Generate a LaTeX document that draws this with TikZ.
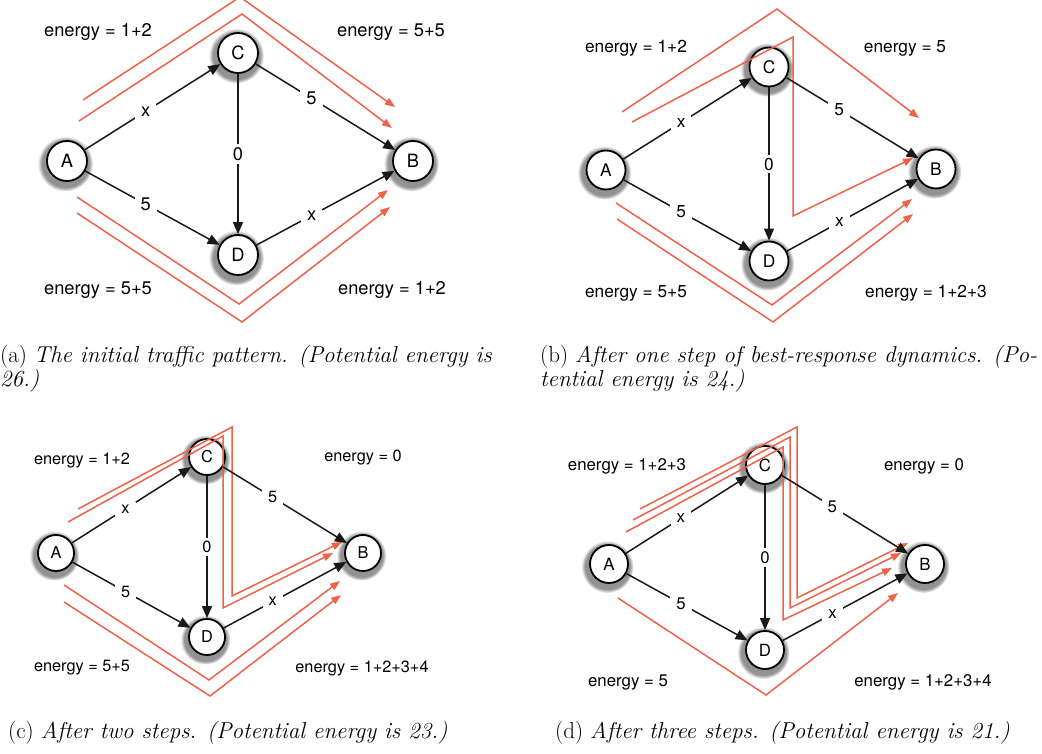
\documentclass[tikz,border=0pt]{standalone}
\usepackage{fontspec}
\newfontfamily\hv{TeX Gyre Heros}
\usetikzlibrary{arrows.meta,shadows}
\definecolor{flow}{RGB}{238,98,74}
\definecolor{edgec}{RGB}{25,25,25}
\tikzset{
  vert/.style={circle,draw=black,line width=1.8pt,fill=white,minimum size=#1,inner sep=0pt,
    circular drop shadow={shadow xshift=-1.2pt,shadow yshift=-2pt,shadow scale=1.38,opacity=0.85}},
  link/.style={draw=edgec,line width=1.5pt,-{Triangle[length=12pt,width=10pt]}},
  elab/.style={fill=white,inner xsep=6pt,inner ysep=3pt},
  route/.style={draw=flow,line width=1.5pt,-{Triangle[length=10pt,width=7.5pt]}},
  captext/.style={anchor=west,inner sep=0pt,font=\fontsize{23}{24}\selectfont},
}
\begin{document}
\begin{tikzpicture}[x=1pt,y=-1pt]
\useasboundingbox[fill=white] (0,0) rectangle (1042,754);

% ---------------- panel (a)
\begin{scope}[every node/.append style={font=\hv\fontsize{18.3}{20}\selectfont}]
\draw[route] (83,100) -- (240,-3) -- (395,107);
\draw[route] (79,121) -- (242,14) -- (392,128);
\draw[route] (77,197) -- (239,304) -- (388,190);
\draw[route] (77,213) -- (242,322) -- (390,207);
\node[vert=40pt] (Aa) at (67,161) {A};
\node[vert=40pt] (Ca) at (238,53) {C};
\node[vert=40pt] (Ba) at (413,161) {B};
\node[vert=40pt] (Da) at (238,255) {D};
\draw[link] (Aa) -- node[elab,pos=.45] {x} (Ca);
\draw[link] (Ca) -- node[elab,pos=.40] {5} (Ba);
\draw[link] (Ca) -- node[elab,pos=.5] {0} (Da);
\draw[link] (Aa) -- node[elab,pos=.45] {5} (Da);
\draw[link] (Da) -- node[elab,pos=.40] {x} (Ba);
\node (ea1) at (98,32) {energy = 1+2};
\node (ea2) at (391,32) {energy = 5+5};
\node (ea3) at (98,290) {energy = 5+5};
\node (ea4) at (392,290) {energy = 1+2};
\end{scope}

% ---------------- panel (b)
\begin{scope}[every node/.append style={font=\hv\fontsize{17.3}{19}\selectfont}]
\draw[route] (622,112) -- (777,9) -- (919,118);
\draw[route] (616,203) -- (772,305) -- (912,199);
\draw[route] (617,219) -- (773,322) -- (913,214);
\node[vert=39pt] (Ab) at (606,170) {A};
\node[vert=39pt] (Cb) at (769,67) {C};
\node[vert=39pt] (Bb) at (936,169) {B};
\node[vert=39pt] (Db) at (769,261) {D};
\draw[route] (632,122) -- (793,37) -- (793,216) -- (913,158);
\draw[link] (Ab) -- node[elab,pos=.45] {x} (Cb);
\draw[link] (Cb) -- node[elab,pos=.40] {5} (Bb);
\draw[link] (Cb) -- node[elab,pos=.5] {0} (Db);
\draw[link] (Ab) -- node[elab,pos=.45] {5} (Db);
\draw[link] (Db) -- node[elab,pos=.40] {x} (Bb);
\node (eb1) at (636,48) {energy = 1+2};
\node (eb2) at (905,48) {energy = 5};
\node (eb3) at (636,293) {energy = 5+5};
\node (eb4) at (926,293) {energy = 1+2+3};
\end{scope}

% ---------------- panel (c)
\begin{scope}[every node/.append style={font=\hv\fontsize{16.3}{18}\selectfont}]
\draw[route] (64,585) -- (209,680) -- (340,581);
\draw[route] (64,602) -- (210,696) -- (341,595);
\node[vert=36pt] (Ac) at (56,553) {A};
\node[vert=36pt] (Cc) at (207,457) {C};
\node[vert=36pt] (Bc) at (363,553) {B};
\node[vert=36pt] (Dc) at (207,637) {D};
\draw[route] (78,509) -- (232,427) -- (232,596) -- (342,542);
\draw[route] (68,522) -- (223,436) -- (223,608) -- (333,553);
\draw[link] (Ac) -- node[elab,pos=.45] {x} (Cc);
\draw[link] (Cc) -- node[elab,pos=.40] {5} (Bc);
\draw[link] (Cc) -- node[elab,pos=.5] {0} (Dc);
\draw[link] (Ac) -- node[elab,pos=.45] {5} (Dc);
\draw[link] (Dc) -- node[elab,pos=.40] {x} (Bc);
\node (ec1) at (82,460) {energy = 1+2};
\node (ec2) at (363,457) {energy = 0};
\node (ec3) at (82,668) {energy = 5+5};
\node (ec4) at (362,668) {energy = 1+2+3+4};
\end{scope}

% ---------------- panel (d)
\begin{scope}[every node/.append style={font=\hv\fontsize{16.8}{19}\selectfont}]
\draw[route] (618,598) -- (766,695) -- (898,593);
\node[vert=38pt] (Ad) at (609,564) {A};
\node[vert=38pt] (Cd) at (765,465) {C};
\node[vert=38pt] (Bd) at (925,564) {B};
\node[vert=38pt] (Dd) at (765,650) {D};
\draw[route] (640,509) -- (797,427) -- (797,598) -- (908,543);
\draw[route] (633,520) -- (790,437) -- (790,608) -- (901,553);
\draw[route] (626,532) -- (783,447) -- (783,620) -- (892,568);
\draw[link] (Ad) -- node[elab,pos=.45] {x} (Cd);
\draw[link] (Cd) -- node[elab,pos=.40] {5} (Bd);
\draw[link] (Cd) -- node[elab,pos=.5] {0} (Dd);
\draw[link] (Ad) -- node[elab,pos=.45] {5} (Dd);
\draw[link] (Dd) -- node[elab,pos=.40] {x} (Bd);
\node (ed1) at (627,466) {energy = 1+2+3};
\node (ed2) at (924,466) {energy = 0};
\node (ed3) at (628,682) {energy = 5};
\node (ed4) at (923,682) {energy = 1+2+3+4};
\end{scope}

% ---------------- captions
\node[captext] (capa1) at (0,357) {(a) \textit{The initial traffic pattern. (Potential energy is}};
\node[captext] (capa2) at (0,381) {\textit{26.)}};
\node[captext] (capb1) at (540,357) {(b) \textit{After one step of best-response dynamics. (Po-}};
\node[captext] (capb2) at (540,381) {\textit{tential energy is 24.)}};
\node[captext] (capc) at (8,733) {(c) \textit{After two steps. (Potential energy is 23.)}};
\node[captext] (capd) at (555,733) {(d) \textit{After three steps. (Potential energy is 21.)}};
\end{tikzpicture}
\end{document}
